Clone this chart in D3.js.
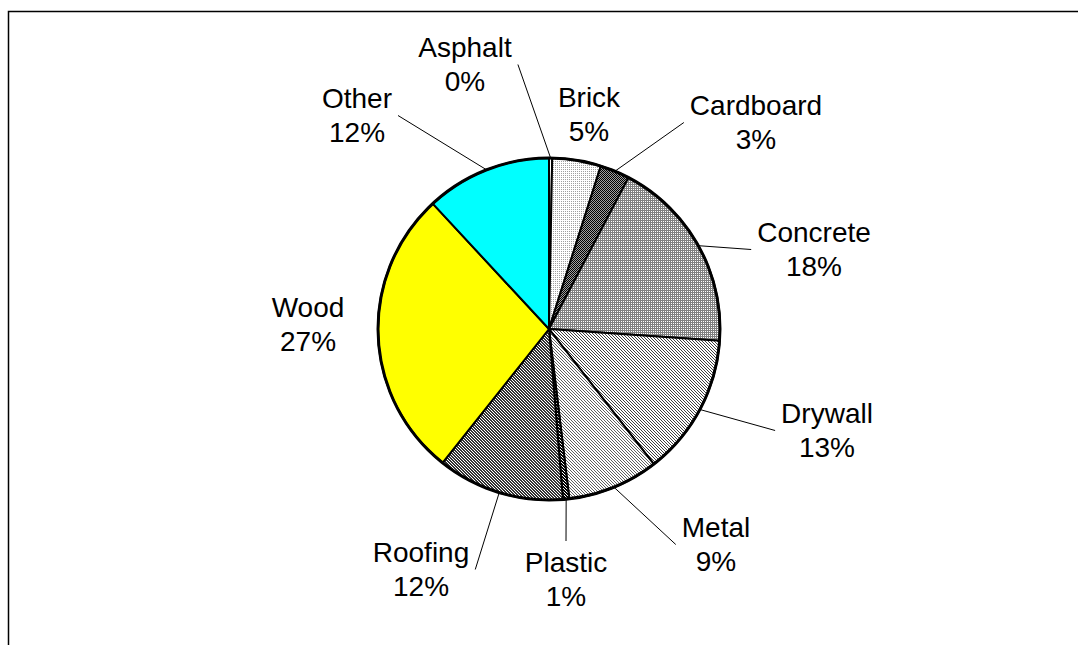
<!DOCTYPE html>
<html>
<head>
<meta charset="utf-8">
<script src="https://cdn.jsdelivr.net/npm/d3@7"></script>
<style>
  body { margin: 0; background: #fff; }
  text { font-family: "Liberation Sans", Arial, sans-serif; }
</style>
</head>
<body>
<div id="my_dataviz"></div>
<script>
// Waste categories, clockwise from 12 o'clock
var categories = ["Asphalt", "Brick", "Cardboard", "Concrete", "Drywall", "Metal", "Plastic", "Roofing", "Wood", "Other"];
// Share of total (percent)
var shares = [0.3, 4.6, 2.8, 18.4, 13.4, 8.6, 0.6, 12.0, 27.4, 11.9];

// Layout: label anchor (centre x, first baseline) relative to the pie centre, and whether it has a leader line
var labelOffsets = [[-84, -272], [40, -222], [207, -214], [265, -87], [278, 94],
                    [167, 208], [17, 243], [-128, 233], [-241, -12], [-192, -221]];
var hasLeader = [true, false, true, true, true, true, true, true, false, true];

var width = 1078,
    height = 645,
    cx = 549,
    cy = 329,
    radius = 171;

var svg = d3.select("#my_dataviz")
    .append("svg")
    .attr("width", width)
    .attr("height", height);

// Pixel fill patterns (1 = foreground pixel)
var patterns = {
    Asphalt:   { bg: "#ffffff", fg: "#000", rows: ["1000", "0000", "0000", "0000"] },
    Brick:     { bg: "#ffffff", fg: "#a0a0a0", rows: ["10", "00"] },
    Cardboard: { bg: "#a0a0a0", fg: "#000", rows: ["10", "01"] },
    Concrete:  { bg: "#808080", fg: "#fff", rows: ["10", "00"] },
    Drywall:   { bg: "#ffffff", fg: "#404040", rows: ["100", "010", "001"] },
    Metal:     { bg: "#ffffff", fg: "#606060", rows: ["100", "010", "001"] },
    Plastic:   { bg: "#ffffff", fg: "#000", rows: ["110", "011", "101"] },
    Roofing:   { bg: "#ffffff", fg: "#333", rows: ["110", "011", "101"] }
};
var solidFill = { Wood: "#ffff00", Other: "#00ffff" };

var defs = svg.append("defs");
Object.keys(patterns).forEach(function(key) {
    var p = patterns[key];
    var n = p.rows.length;
    var pat = defs.append("pattern")
        .attr("id", "pat-" + key)
        .attr("patternUnits", "userSpaceOnUse")
        .attr("width", n)
        .attr("height", n);
    pat.append("rect").attr("width", n).attr("height", n).attr("fill", p.bg);
    p.rows.forEach(function(row, y) {
        row.split("").forEach(function(c, x) {
            if (c === "1") {
                pat.append("rect").attr("x", x).attr("y", y)
                    .attr("width", 1).attr("height", 1)
                    .attr("fill", p.fg)
                    .attr("shape-rendering", "crispEdges");
            }
        });
    });
});

function fillFor(name) {
    return solidFill[name] ? solidFill[name] : "url(#pat-" + name + ")";
}

// Chart area border (top and left edges visible)
svg.append("rect")
    .attr("x", 8.5)
    .attr("y", 11.5)
    .attr("width", 1200)
    .attr("height", 800)
    .attr("fill", "none")
    .attr("stroke", "#000")
    .attr("stroke-width", 1.5);

var g = svg.append("g")
    .attr("transform", "translate(" + cx + "," + cy + ")");

var pie = d3.pie()
    .sort(null)
    .value(function(d) { return d.value; });

var data_ready = pie(categories.map(function(c, i) { return { key: c, value: shares[i], i: i }; }));

var arcGenerator = d3.arc()
    .innerRadius(0)
    .outerRadius(radius);

g.selectAll("path.slice")
    .data(data_ready)
    .enter()
    .append("path")
    .attr("class", "slice")
    .attr("d", arcGenerator)
    .attr("fill", function(d) { return fillFor(d.data.key); })
    .attr("stroke", "#000")
    .attr("stroke-width", 2)
    .attr("stroke-linejoin", "round");

g.append("circle")
    .attr("r", radius)
    .attr("fill", "none")
    .attr("stroke", "#000")
    .attr("stroke-width", 3);

// Labels
var lineGap = 34;
var labels = g.selectAll("text.lbl")
    .data(data_ready)
    .enter()
    .append("text")
    .attr("class", "lbl")
    .attr("text-anchor", "middle")
    .style("font-size", "28px")
    .attr("fill", "#000");

labels.append("tspan")
    .attr("x", function(d) { return labelOffsets[d.data.i][0]; })
    .attr("y", function(d) { return labelOffsets[d.data.i][1]; })
    .text(function(d) { return d.data.key; });

labels.append("tspan")
    .attr("x", function(d) { return labelOffsets[d.data.i][0]; })
    .attr("y", function(d) { return labelOffsets[d.data.i][1] + lineGap; })
    .text(function(d) { return Math.round(d.data.value) + "%"; });

// Leader lines: from the slice's outer edge to the nearest side of the label box
var pad = 6;
labels.each(function(d) {
    if (!hasLeader[d.data.i]) return;
    var b = this.getBBox();
    var mid = (d.startAngle + d.endAngle) / 2;
    var px = Math.sin(mid) * radius,
        py = -Math.cos(mid) * radius;
    var x0 = b.x - pad, x1 = b.x + b.width + pad,
        y0 = b.y - pad, y1 = b.y + b.height + pad;
    var ex, ey;
    if (px < x0) { ex = x0; ey = (y0 + y1) / 2; }
    else if (px > x1) { ex = x1; ey = (y0 + y1) / 2; }
    else if (py < y0) { ex = (x0 + x1) / 2; ey = y0; }
    else { ex = (x0 + x1) / 2; ey = y1; }
    g.append("line")
        .attr("x1", ex).attr("y1", ey)
        .attr("x2", px).attr("y2", py)
        .attr("stroke", "#000")
        .attr("stroke-width", 1);
});
</script>
</body>
</html>
